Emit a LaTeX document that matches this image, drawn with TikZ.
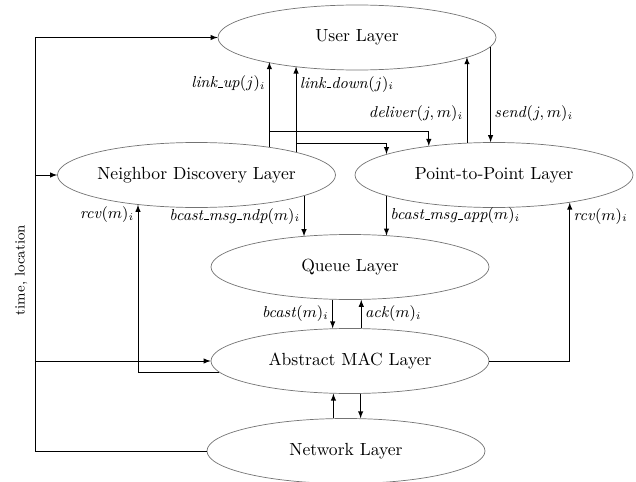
\documentclass[tikz,border=0pt]{standalone}
\usepackage{amsmath}
\usetikzlibrary{shapes.geometric, arrows, positioning}

\newcommand{\uscore}{\kern.06em\vbox{\hrule width.3em}}

\begin{document}
\begin{tikzpicture}[>=latex]

	\tikzset{layer/.style={
			ellipse, draw=black!55,
			minimum width=5.56cm, minimum height=1.3cm,
			inner xsep=-3pt, inner ysep=0pt
		},
		lbl/.style={font=\small, inner sep=2pt}
	}

	\useasboundingbox (0,0) rectangle (12.72,-9.64);

	\node[layer] (user) at (7.14,-0.75) {User Layer};
	\node[layer] (ndl) at (3.93,-3.5) {Neighbor Discovery Layer};
	\node[layer] (ptp) at (9.88,-3.5) {Point-to-Point Layer};
	\node[layer] (queue) at (7.0,-5.34) {Queue Layer};
	\node[layer] (mac) at (7.0,-7.22) {Abstract MAC Layer};
	\node[layer] (net) at (6.92,-9.02) {Network Layer};

	% time, location
	\coordinate (bus) at (0.7,0);
	\draw (net.west) -- (net.west -| bus) -- (user.west -| bus);
	\foreach \n in {user, ndl, mac}
		\draw[->] (\n.west -| bus) -- (\n.west);
	\node[rotate=90, font=\footnotesize] (tl) at (0.42,-5.4) {time, location};

	% neighbor discovery -> user, point-to-point
	\draw[->] (ndl.21.7) -- (ndl.21.7 |- user.195.4) node[lbl, left, pos=0.745] {\textit{link\uscore up}$(j)_i$};
	\coordinate (upsplit) at ([yshift=0.32cm]ndl.21.7);
	\draw[->] (upsplit) -| (ptp.156.6);
	\draw[->] (ndl.13.4) -- (ndl.13.4 |- user.204.7) node[lbl, right, pos=0.795] {\textit{link\uscore down}$(j)_i$};
	\coordinate (downsplit) at ([yshift=0.18cm]ndl.13.4);
	\draw[->] (downsplit) -| (ptp.169.3);

	% user <-> point-to-point
	\draw[->] (ptp.130.2) -- (ptp.130.2 |- user.-10.2) node[lbl, left, pos=0.34] {\textit{deliver}$(j,m)_i$};
	\draw[->] (user.-4.4) -- (user.-4.4 |- ptp.98.8) node[lbl, right, pos=0.70] {\textit{send}$(j,m)_i$};

	% down to the queue
	\draw[->] (ndl.-11.6) -- (ndl.-11.6 |- queue.148.2) node[lbl, left, midway] {\textit{bcast\uscore msg\uscore ndp}$(m)_i$};
	\draw[->] (ptp.191.7) -- (ptp.191.7 |- queue.37.9) node[lbl, right, midway] {\textit{bcast\uscore msg\uscore app}$(m)_i$};

	% queue <-> mac <-> network
	\draw[->] (queue.242.2) -- (queue.242.2 |- mac.117.8) node[lbl, left, midway] {\textit{bcast}$(m)_i$};
	\draw[->] (mac.71.2) -- (mac.71.2 |- queue.-71.2) node[lbl, right, midway] {\textit{ack}$(m)_i$};
	\draw[->] (net.111.9) -- (net.111.9 |- mac.242.2);
	\draw[->] (mac.-72.8) -- (mac.-72.8 |- net.66.6);

	% receive
	\draw[->] (mac.185.3) -| (ndl.207.7) node[lbl, left, pos=0.97] {\textit{rcv}$(m)_i$};
	\draw[->] (mac.east) -| (ptp.-20.4) node[lbl, right, pos=0.957] {\textit{rcv}$(m)_i$};

\end{tikzpicture}
\end{document}
